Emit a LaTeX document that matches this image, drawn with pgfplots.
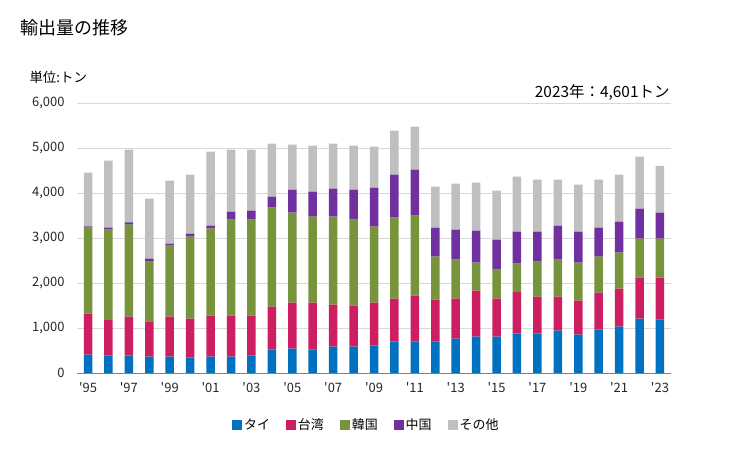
\documentclass[border=0pt]{standalone}
\usepackage{pgfplots}
\pgfplotsset{compat=1.18}
\usepackage{pgfplotstable}
\usepackage{fontspec}
\setmainfont{Noto Sans CJK JP}[Ligatures=TeXOff]
\definecolor{cthai}{RGB}{0,112,192}
\definecolor{ctw}{RGB}{206,30,98}
\definecolor{ckr}{RGB}{119,147,60}
\definecolor{ccn}{RGB}{112,48,160}
\definecolor{coth}{RGB}{191,191,191}
\pgfplotstableread{
year thai tw kr cn oth
1995 407 911 1912 29 1193
1996 393 800 1992 45 1488
1997 393 859 2044 52 1615
1998 363 785 1326 67 1333
1999 363 889 1578 44 1400
2000 348 859 1823 66 1311
2001 363 911 1933 67 1644
2002 363 911 2133 178 1378
2003 393 881 2133 200 1356
2004 526 948 2200 244 1178
2005 541 1022 2000 511 1000
2006 526 1037 1911 556 1022
2007 585 933 1956 622 1000
2008 585 911 1911 667 978
2009 615 948 1689 866 912
2010 704 948 1800 955 978
2011 704 1014 1778 1022 956
2012 704 926 955 645 911
2013 763 889 866 667 1022
2014 807 1023 622 711 1067
2015 807 845 644 667 1089
2016 881 934 615 711 1222
2017 881 815 778 667 1155
2018 941 755 822 756 1022
2019 852 755 845 689 1044
2020 970 815 800 645 1066
2021 1030 844 800 689 1044
2022 1207 911 867 667 1155
2023 1193 925 867 578 1038
}\datatable
\begin{document}
\begin{tikzpicture}
\useasboundingbox (0bp,0bp) rectangle (729bp,450bp);
\node[anchor=west,font=\fontsize{18}{20}\selectfont] at (17bp,422bp) {輸出量の推移};
\node[anchor=west,font=\fontsize{13.5}{15}\selectfont] at (26bp,373bp) {単位:トン};
\node[anchor=east,font=\fontsize{15.5}{17}\selectfont] at (673bp,358bp) {2023年：4,601トン};
\begin{axis}[
  at={(77bp,77bp)}, anchor=south west,
  scale only axis, width=594bp, height=270bp,
  ybar stacked, bar width=8.5bp,
  xmin=1994.46, xmax=2023.54,
  ymin=0, ymax=6000,
  ytick={0,1000,...,6000},
  xtick={1995,1997,...,2023},
  xticklabels={'95,'97,'99,'01,'03,'05,'07,'09,'11,'13,'15,'17,'19,'21,'23},
  ymajorgrids, grid style={draw=black!15, line width=0.8bp},
  axis x line*=bottom, axis y line*=left,
  x axis line style={draw=black!50, line width=1bp, -},
  y axis line style={draw=none},
  major tick length=0pt,
  tick label style={font=\fontsize{13}{15}\selectfont, text=black!85},
  /pgf/number format/assume math mode=true,
  /pgf/number format/1000 sep={,},
  yticklabel style={anchor=east, xshift=-9bp},
  xticklabel style={yshift=-6bp},
  legend columns=5,
  legend style={draw=none, at={(0.487,-0.193)}, anchor=center,
    font=\fontsize{13}{15}\selectfont,
    /tikz/every even column/.append style={column sep=14bp}},
  legend image code/.code={\fill[#1] (0bp,-5bp) rectangle (10bp,5bp);},
]
\addplot[fill=cthai, draw=none] table[x=year,y=thai]{\datatable};
\addplot[fill=ctw, draw=none] table[x=year,y=tw]{\datatable};
\addplot[fill=ckr, draw=none] table[x=year,y=kr]{\datatable};
\addplot[fill=ccn, draw=none] table[x=year,y=cn]{\datatable};
\addplot[fill=coth, draw=none] table[x=year,y=oth]{\datatable};
\legend{タイ,台湾,韓国,中国,その他}
\end{axis}
\end{tikzpicture}
\end{document}
